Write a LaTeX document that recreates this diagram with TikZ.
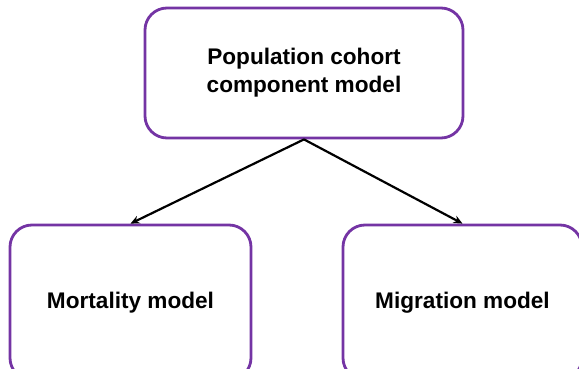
\documentclass[tikz,border=0pt]{standalone}
\usepackage{fontspec}
\setmainfont{Liberation Sans}
\usetikzlibrary{arrows.meta}
\definecolor{boxpurple}{HTML}{7434A4}
\begin{document}
\begin{tikzpicture}[x=1pt,y=-1pt,
  box/.style={draw=boxpurple, line width=2.8pt, rounded corners=22pt, fill=white,
    align=center, font=\bfseries\fontsize{22.6}{28}\selectfont, inner sep=0pt},
  link/.style={line width=2.2pt, -{Stealth[length=9pt,width=8pt]}}]
\useasboundingbox (0,0) rectangle (579,369);
\clip (0,0) rectangle (579,369);
\node[box, minimum width=318pt, minimum height=130pt] (top) at (304,73) {Population cohort\\component model};
\node[box, minimum width=241pt, minimum height=155pt] (left) at (130.5,302.5) {Mortality model};
\node[box, minimum width=239pt, minimum height=155pt] (right) at (462.5,302.5) {Migration model};
\draw[link] (top.south) -- (left.north);
\draw[link] (top.south) -- (right.north);
\end{tikzpicture}
\end{document}
